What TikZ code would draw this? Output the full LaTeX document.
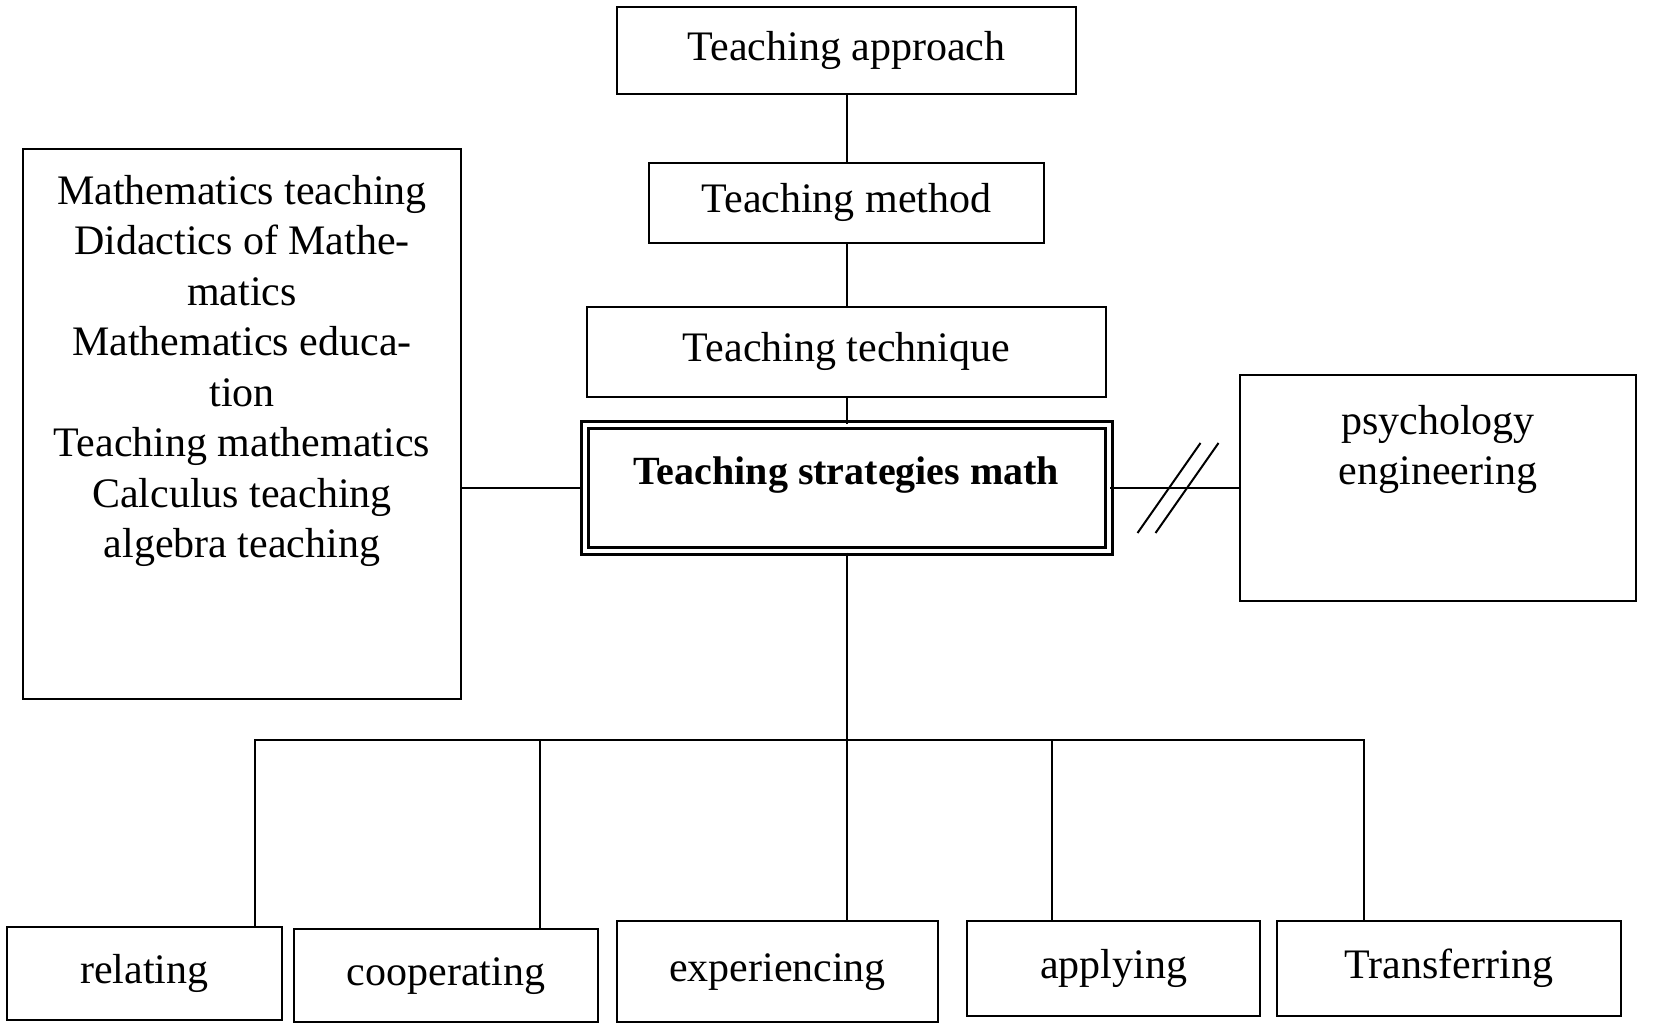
\documentclass[tikz,border=0pt]{standalone}
\usepackage{fontspec}
\setmainfont{Liberation Serif}
\usetikzlibrary{calc}
\begin{document}
\begin{tikzpicture}[x=1pt,y=-1pt,
  box/.style={draw, line width=2pt, inner sep=0pt, font=\fontsize{42}{50.5}\selectfont, text height=28.7pt, text depth=9.1pt},
  link/.style={line width=2pt},
  txt/.style={inner sep=0pt, align=center, font=\fontsize{42}{50.5}\selectfont}]
\useasboundingbox (0,0) rectangle (1654,1031);

\node[box, minimum width=459pt, minimum height=87pt] (approach) at (846.5,50.5) {Teaching approach};
\node[box, minimum width=395pt, minimum height=80pt] (method) at (846.5,203) {Teaching method};
\node[box, minimum width=519pt, minimum height=90pt] (technique) at (846.5,352) {Teaching technique};
\node[draw, line width=3pt, double, double distance=4pt, inner sep=0pt,
      minimum width=524pt, minimum height=126pt,
      font=\fontsize{40}{48}\selectfont\bfseries, text height=28pt, text depth=36pt] (central) at (846.5,488) {Teaching strategies math};

\node[box, minimum width=438pt, minimum height=550pt] (fields) at (242,424) {};
\node[txt, anchor=north] (fieldstext) at (242,175) {Mathematics teaching\\Didactics of Mathe-\\matics\\Mathematics educa-\\tion\\Teaching mathematics\\Calculus teaching\\algebra teaching};

\node[box, minimum width=396pt, minimum height=226pt] (other) at (1438,488) {};
\node[txt, anchor=north] (othertext) at (1438,405) {psychology\\engineering};

\node[box, minimum width=275pt, minimum height=93pt] (relating) at (144.5,973.5) {relating};
\node[box, minimum width=304pt, minimum height=93pt] (cooperating) at (446,975.5) {cooperating};
\node[box, minimum width=321pt, minimum height=101pt] (experiencing) at (777.5,971.5) {experiencing};
\node[box, minimum width=293pt, minimum height=95pt] (applying) at (1113.5,968.5) {applying};
\node[box, minimum width=344pt, minimum height=95pt] (transferring) at (1449,968.5) {Transferring};

\draw[link] (approach.south) -- (method.north);
\draw[link] (method.south) -- (technique.north);
\draw[link] (technique.south) -- (central.north);
\draw[link] (fields.east |- central.west) -- (central.west);
\draw[link] (central.east) -- (other.west);
\coordinate (brk) at ($(central.east)!0.5!(other.west)$);
\draw[link] ([shift={(-37,45)}]brk) -- ([shift={(26,-45)}]brk);
\draw[link] ([shift={(-19,45)}]brk) -- ([shift={(44,-45)}]brk);

\coordinate (bus) at (846.5,740);
\draw[link] (central.south) -- (bus);
\draw[link] (bus) -| ([xshift=110.5pt]relating.north);
\draw[link] (bus) -| ([xshift=94pt]cooperating.north);
\draw[link] (bus) -- (bus |- experiencing.north);
\draw[link] (bus) -| ([xshift=-61.5pt]applying.north);
\draw[link] (bus) -| ([xshift=-85pt]transferring.north);
\end{tikzpicture}
\end{document}
